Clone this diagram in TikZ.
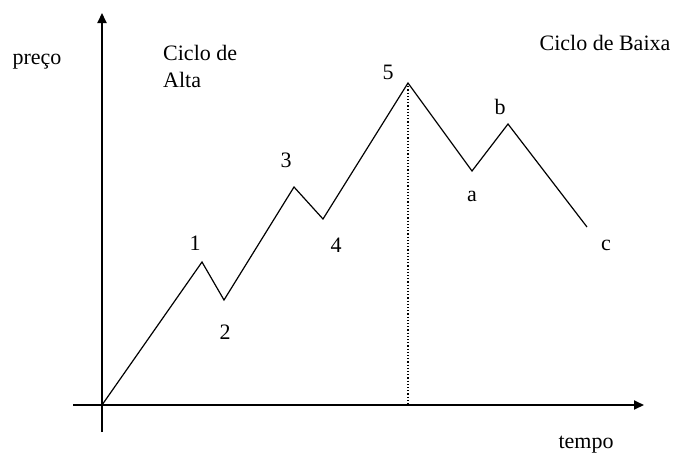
\documentclass[tikz,border=0pt]{standalone}
\usepackage{fontspec}
\setmainfont{Liberation Serif}
\usetikzlibrary{arrows.meta}
\begin{document}
\begin{tikzpicture}[x=1pt,y=-1pt,
  axis/.style={line width=2pt,-{Triangle[length=10pt,width=9pt]}},
  wave/.style={line width=1.2pt,line join=miter},
  lbl/.style={inner sep=0pt,font=\fontsize{22}{24}\selectfont}]
\useasboundingbox[fill=white] (0,0) rectangle (673,456);
% axes
\coordinate (ybot) at (102,432);
\coordinate (ytop) at (102,13);
\coordinate (xleft) at (73,405);
\coordinate (xright) at (644,405);
\draw[axis] (ybot) -- (ytop);
\draw[axis] (xleft) -- (xright);
% wave points
\coordinate (p0) at (102,405);
\coordinate (p1) at (202,262);
\coordinate (p2) at (224,300);
\coordinate (p3) at (294,187);
\coordinate (p4) at (323,219);
\coordinate (p5) at (408,83);
\coordinate (pa) at (472,171);
\coordinate (pb) at (508,124);
\coordinate (pc) at (587,227);
\coordinate (p5b) at (408,405);
\draw[wave] (p0) -- (p1) -- (p2) -- (p3) -- (p4) -- (p5) -- (pa) -- (pb) -- (pc);
\draw[line width=1.2pt,dotted] (p5) -- (p5b);
% labels
\node[lbl] (l1) at (195,243) {1};
\node[lbl] (l2) at (225,332) {2};
\node[lbl] (l3) at (286,160) {3};
\node[lbl] (l4) at (336,245) {4};
\node[lbl] (l5) at (388,72) {5};
\node[lbl] (la) at (472,196) {a};
\node[lbl] (lb) at (500,107) {b};
\node[lbl] (lc) at (606,245) {c};
\node[lbl] (preco) at (37,62) {preço};
\node[lbl,anchor=west] (ca1) at (163,53) {Ciclo de};
\node[lbl,anchor=west] (ca2) at (163,80) {Alta};
\node[lbl] (cb) at (605,43) {Ciclo de Baixa};
\node[lbl] (tempo) at (586,445) {tempo};
\end{tikzpicture}
\end{document}
